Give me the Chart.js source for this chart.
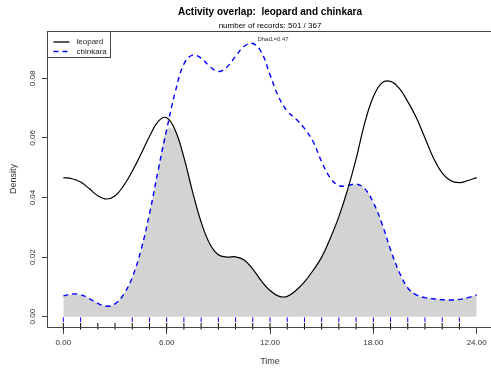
<!DOCTYPE html>
<html>
<head>
<meta charset="utf-8">
<script src="https://cdn.jsdelivr.net/npm/chart.js@4"></script>
<style>
  body { margin: 0; overflow: hidden; background: #fff; }
  #wrap { width: 540px; height: 372px; }
</style>
</head>
<body>
<div id="wrap"><canvas id="overlapChart" width="540" height="372"></canvas></div>
<script>
// hours of the day, half hour steps
const hours = [0, 0.5, 1, 1.5, 2, 2.5, 3, 3.5, 4, 4.5, 5, 5.5, 6, 6.5, 7, 7.5, 8, 8.5, 9, 9.5,
    10, 10.5, 11, 11.5, 12, 12.5, 13, 13.5, 14, 14.5, 15, 15.5, 16, 16.5, 17, 17.5, 18, 18.5,
    19, 19.5, 20, 20.5, 21, 21.5, 22, 22.5, 23, 23.5, 24]

const leopardDensity = [0.0467, 0.0463, 0.0452, 0.0430, 0.0406, 0.0395, 0.0405, 0.0440, 0.0488, 0.0545,
    0.0605, 0.0655, 0.0668, 0.0625, 0.0535, 0.0420, 0.0318, 0.0245, 0.0208, 0.0200,
    0.0201, 0.0190, 0.0160, 0.0120, 0.0088, 0.0069, 0.0068, 0.0088, 0.0117, 0.0155,
    0.0200, 0.0263, 0.0336, 0.0425, 0.0530, 0.0650, 0.0738, 0.0785, 0.0790, 0.0767,
    0.0722, 0.0668, 0.0600, 0.0532, 0.0482, 0.0456, 0.0450, 0.0457, 0.0467]

const chinkaraDensity = [0.0070, 0.0076, 0.0074, 0.0061, 0.0045, 0.0035, 0.0043, 0.0075, 0.0132, 0.0222,
    0.0345, 0.0490, 0.0628, 0.0755, 0.0848, 0.0878, 0.0868, 0.0840, 0.0823, 0.0838,
    0.0874, 0.0908, 0.0917, 0.0888, 0.0812, 0.0738, 0.0690, 0.0664, 0.0632, 0.0588,
    0.0520, 0.0466, 0.0440, 0.0440, 0.0445, 0.0430, 0.0383, 0.0313, 0.0225, 0.0150,
    0.0097, 0.0073, 0.0064, 0.0060, 0.0057, 0.0056, 0.0058, 0.0064, 0.0073]

// rug: hours with records
const leopardRug = [0, 1, 2, 3, 4, 5, 6, 7, 8, 9, 10, 11, 12, 13, 14, 15, 16, 17, 18, 19, 20, 21, 22, 23]
const chinkaraRug = [0, 1, 4, 5, 6, 7, 8, 9, 10, 11, 12, 13, 14, 15, 16, 17, 18, 19, 20, 21, 22, 23]

const xTicks = [0, 6, 12, 18, 24]
const yTicks = [0, 0.02, 0.04, 0.06, 0.08]
const speciesNames = ['leopard', 'chinkara']
const dhatText = 'Dhat1=0.47'

const font = "'Liberation Sans', Arial, Helvetica, sans-serif"

function toPoints(values) {
    let pts = []
    for (let i = 0; i < hours.length; i++) {
        pts.push({x: hours[i], y: values[i]})
    }
    return pts
}

let overlapValues = leopardDensity.map((v, i) => Math.min(v, chinkaraDensity[i]))

const decor = {
    id: 'decor',
    afterDraw(chart) {
        const ctx = chart.ctx
        const a = chart.chartArea
        ctx.save()
        // box
        ctx.strokeStyle = '#444'
        ctx.lineWidth = 1
        ctx.strokeRect(Math.round(a.left) + 0.5, Math.round(a.top) + 0.5, a.right - a.left, a.bottom - a.top)

        // legend top left
        const lx = Math.round(a.left) + 0.5, ly = Math.round(a.top) + 0.5
        ctx.fillStyle = '#fff'
        ctx.fillRect(lx, ly, 63, 26)
        ctx.strokeRect(lx, ly, 63, 26)
        ctx.lineWidth = 1.3
        ctx.strokeStyle = '#000'
        ctx.beginPath()
        ctx.moveTo(lx + 6, ly + 10.5)
        ctx.lineTo(lx + 22, ly + 10.5)
        ctx.stroke()
        ctx.strokeStyle = '#0000ff'
        ctx.lineWidth = 1.5
        ctx.setLineDash([5, 4])
        ctx.beginPath()
        ctx.moveTo(lx + 6, ly + 20)
        ctx.lineTo(lx + 24, ly + 20)
        ctx.stroke()
        ctx.setLineDash([])
        ctx.fillStyle = '#222'
        ctx.font = '8px ' + font
        ctx.textAlign = 'left'
        ctx.textBaseline = 'middle'
        ctx.fillText(speciesNames[0], lx + 29, ly + 10.5)
        ctx.fillText(speciesNames[1], lx + 29, ly + 20)

        // Dhat
        ctx.font = '6px ' + font
        ctx.fillStyle = '#333'
        ctx.textAlign = 'center'
        ctx.fillText(dhatText, (a.left + a.right) / 2 + 3, a.top + 8)
        ctx.restore()
    }
}

const chartId = document.getElementById('overlapChart')

new Chart(chartId, {
    type: 'line',
    data: {
        datasets: [{
            label: speciesNames[0],
            data: toPoints(leopardDensity),
            borderColor: '#000',
            borderWidth: 1.2,
            pointRadius: 0,
            fill: false,
            tension: 0.4
        }, {
            label: speciesNames[1],
            data: toPoints(chinkaraDensity),
            borderColor: '#0000ff',
            borderWidth: 1.4,
            borderDash: [5, 4],
            pointRadius: 0,
            fill: false,
            tension: 0.4
        }, {
            label: 'chinkara rug',
            data: chinkaraRug.map(h => ({x: h, y: -0.001})),
            showLine: false,
            pointStyle: 'line',
            rotation: 90,
            pointRadius: 2.3,
            pointBorderWidth: 1,
            borderColor: '#0000ff',
            clip: false
        }, {
            label: 'leopard rug',
            data: leopardRug.map(h => ({x: h, y: -0.0032})),
            showLine: false,
            pointStyle: 'line',
            rotation: 90,
            pointRadius: 3.3,
            pointBorderWidth: 1,
            borderColor: '#000',
            clip: false
        }, {
            label: 'overlap',
            data: toPoints(overlapValues),
            borderWidth: 0,
            borderColor: 'rgba(0,0,0,0)',
            backgroundColor: '#d3d3d3',
            pointRadius: 0,
            fill: 'origin',
            tension: 0.4
        }]
    },
    options: {
        responsive: false,
        animation: false,
        devicePixelRatio: 1,
        layout: { padding: 0 },
        plugins: {
            legend: { display: false },
            tooltip: { enabled: false },
            title: {
                display: true,
                text: 'Activity overlap:  leopard and chinkara',
                color: '#000',
                font: { family: font, size: 10, weight: 'bold' },
                padding: { top: 6, bottom: 0 }
            },
            subtitle: {
                display: true,
                text: 'number of records: 501 / 367',
                color: '#000',
                font: { family: font, size: 8 },
                padding: { top: 3, bottom: 0.4 }
            }
        },
        scales: {
            x: {
                type: 'linear',
                position: 'bottom',
                min: -0.95,
                max: 24.95,
                afterBuildTicks: s => { s.ticks = xTicks.map(v => ({value: v})) },
                ticks: {
                    callback: v => v.toFixed(2),
                    font: { family: font, size: 8 },
                    color: '#333',
                    padding: 4,
                    maxRotation: 0
                },
                grid: { drawOnChartArea: false, tickLength: 7, color: '#444' },
                border: { display: false },
                title: {
                    display: true,
                    text: 'Time',
                    color: '#333',
                    font: { family: font, size: 9 },
                    padding: { top: 0, bottom: 4.6 }
                },
                afterFit: s => { s.height = 45 }
            },
            y: {
                type: 'linear',
                position: 'left',
                min: -0.00346,
                max: 0.0959,
                afterBuildTicks: s => { s.ticks = yTicks.map(v => ({value: v})) },
                ticks: {
                    callback: v => v.toFixed(2),
                    font: { family: font, size: 8 },
                    color: '#333',
                    minRotation: 90,
                    maxRotation: 90,
                    crossAlign: 'center',
                    padding: 1
                },
                grid: { drawOnChartArea: false, tickLength: 5, color: '#444' },
                border: { display: false },
                title: {
                    display: true,
                    text: 'Density',
                    color: '#333',
                    font: { family: font, size: 9 },
                    padding: { top: 8, bottom: 0 }
                },
                afterFit: s => { s.width = 47 }
            },
            y2: {
                type: 'linear',
                position: 'right',
                display: true,
                ticks: { display: false },
                grid: { display: false },
                border: { display: false },
                afterFit: s => { s.width = 47 }
            }
        }
    },
    plugins: [decor]
});
</script>
</body>
</html>
